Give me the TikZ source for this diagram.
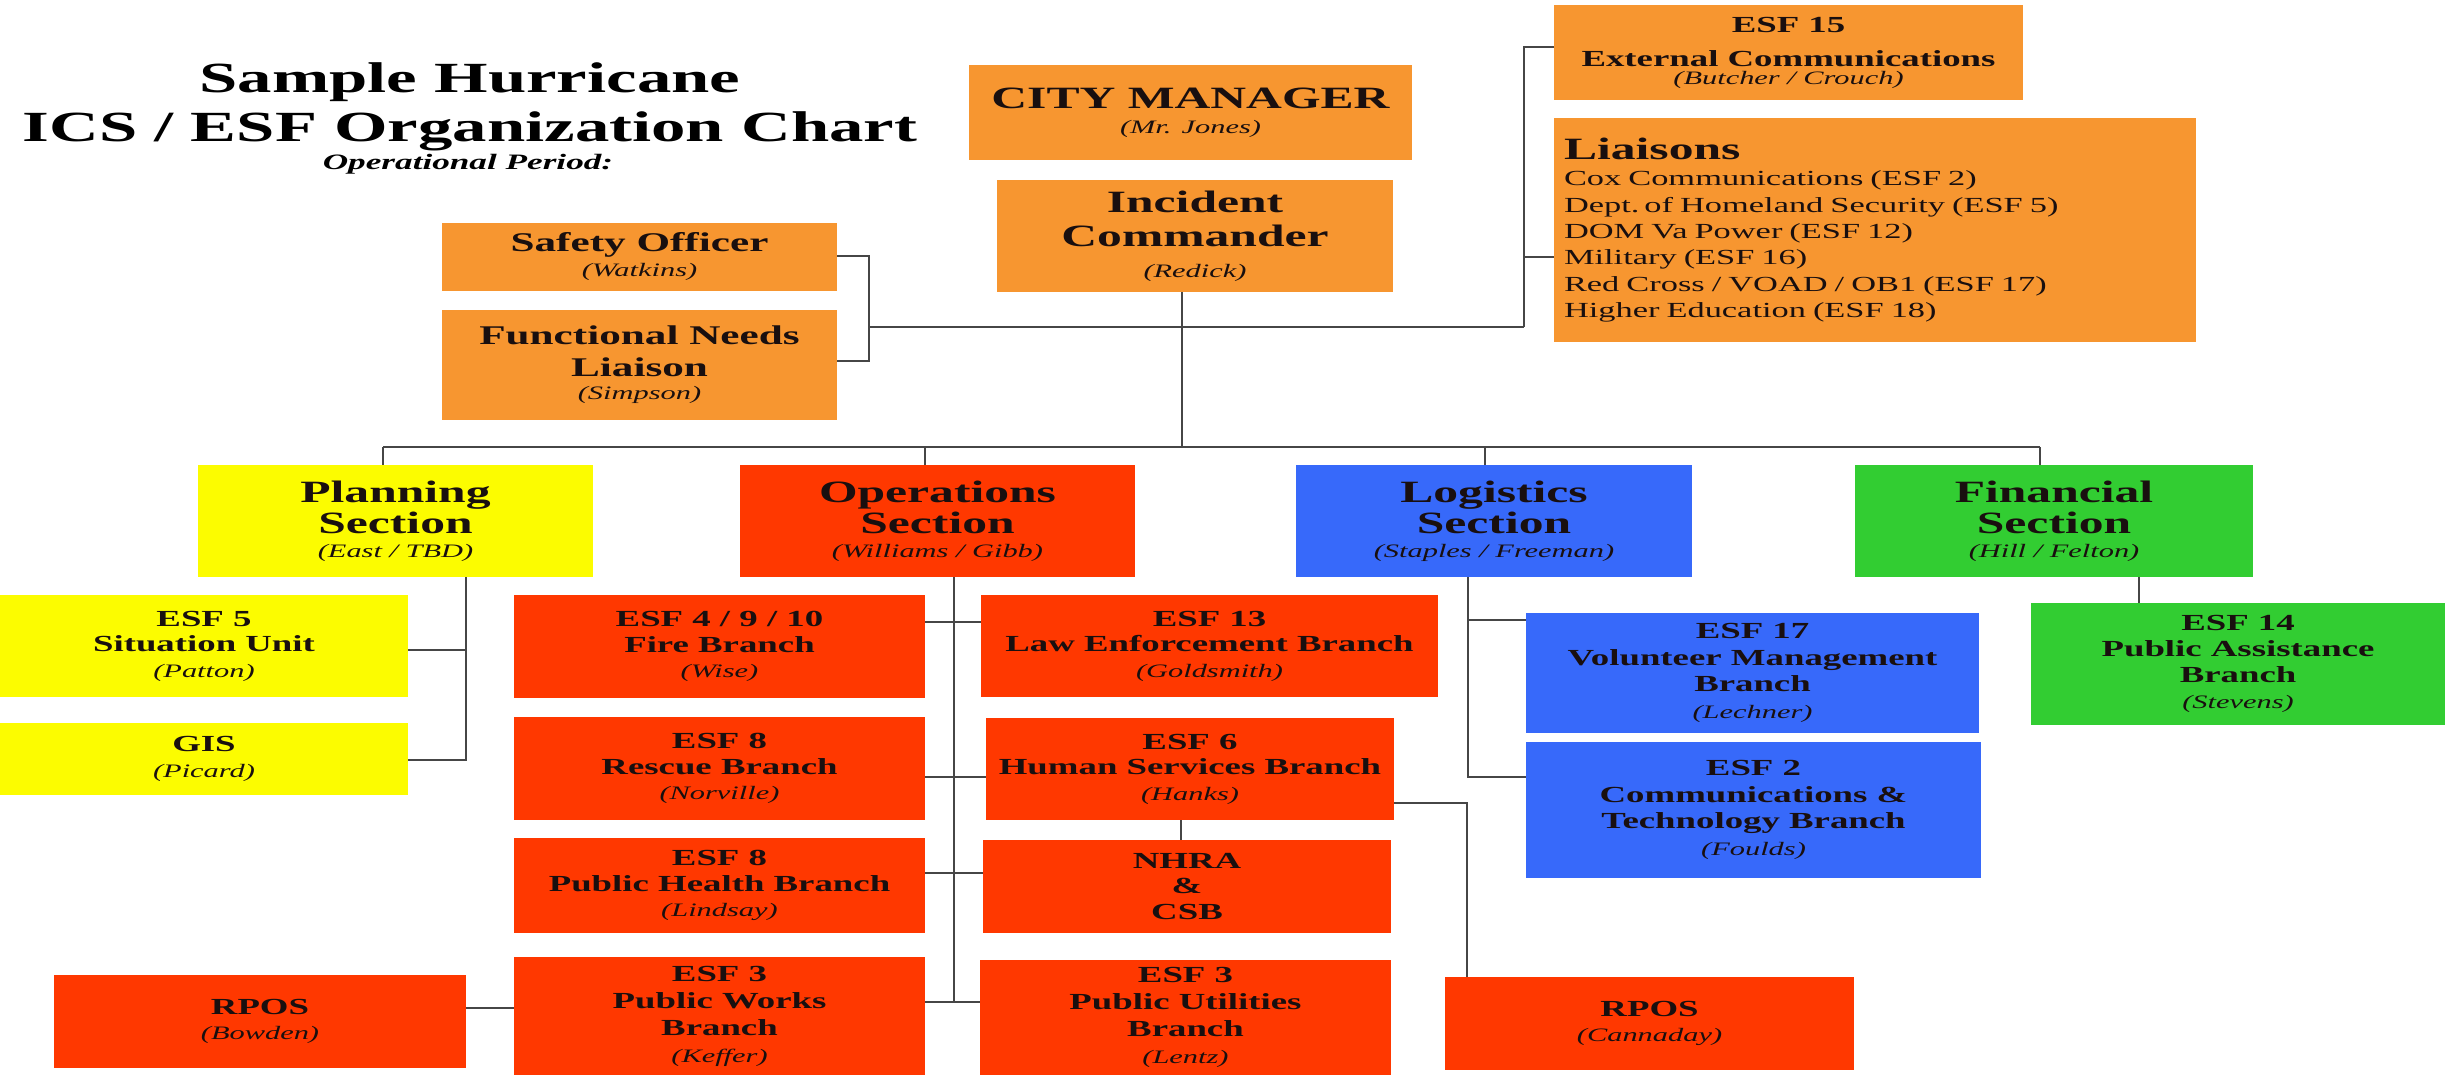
\documentclass[tikz,border=0pt]{standalone}
\usepackage{fontspec}
\setmainfont{Liberation Serif}[FakeStretch=1.6]
\definecolor{orng}{RGB}{247,150,48}
\definecolor{yllw}{RGB}{252,252,0}
\definecolor{redd}{RGB}{255,56,0}
\definecolor{blu}{RGB}{55,105,250}
\definecolor{grn}{RGB}{50,205,50}
\definecolor{lineclr}{RGB}{70,70,70}
\definecolor{txtclr}{RGB}{25,15,15}
\newcommand\fTitle{\fontsize{43}{49}\selectfont\bfseries}
\newcommand\fBig{\fontsize{31}{31}\selectfont\bfseries}
\newcommand\fMid{\fontsize{27}{27}\selectfont\bfseries}
\newcommand\fBr{\fontsize{23}{23}\selectfont\bfseries}
\newcommand\fTx{\fontsize{21.5}{21.5}\selectfont\mdseries\spaceskip=7pt plus 3pt minus 1pt\relax}
\newcommand\fNm{\fontsize{19}{19}\selectfont\mdseries\itshape}
% box: name, x1, y1, x2, y2, colour, options, text
\newcommand\bx[8]{\node[orgbox, fill=#6, minimum width={#4-#2}, minimum height={#5-#3}, #7] (#1) at ({(#2+#4)/2},{(#3+#5)/2}) {#8};}
\tikzset{
  orgbox/.style={draw=none, inner sep=0pt, outer sep=0pt, align=center, text=txtclr},
  lsk/.style={font=\fontsize{10}{#1}\selectfont},
  conn/.style={draw=lineclr, line width=2.2pt},
  ttl/.style={anchor=base, inner sep=0pt, text=black}
}
\begin{document}
\begin{tikzpicture}[x=1pt,y=-1pt]
\fill[white] (0,0) rectangle (2448,1075);
\useasboundingbox (0,0) rectangle (2448,1075);

% title
\node[ttl, font=\fTitle] (t1) at (470,93) {Sample Hurricane};
\node[ttl, font=\fTitle] (t2) at (470,142) {ICS / ESF Organization Chart};
\node[ttl, font=\fontsize{22}{22}\selectfont\bfseries\itshape] (t3) at (468,170) {Operational Period:};

% top
\bx{cm}{969}{65}{1412}{160}{orng}{lsk=25}{{\fBig CITY MANAGER}\\{\fNm (Mr. Jones)}}
\bx{ic}{997}{180}{1393}{292}{orng}{lsk=34}{{\fBig Incident}\\{\fBig Commander}\\[-3pt]{\fNm (Redick)}}
\bx{esf15}{1554}{5}{2023}{100}{orng}{lsk=26}{{\fBr ESF 15}\\[8pt]{\fBr External Communications}\\[-8pt]{\fNm (Butcher / Crouch)}}
\bx{liai}{1554}{118}{2196}{342}{orng}{lsk=26.4, text width=622pt, align=left, inner xsep=10pt}{{\fBig Liaisons}\\
{\fTx Cox Communications (ESF 2)}\\
{\fTx Dept. of Homeland Security (ESF 5)}\\
{\fTx DOM Va Power (ESF 12)}\\
{\fTx Military (ESF 16)}\\
{\fTx Red Cross / VOAD / OB1 (ESF 17)}\\
{\fTx Higher Education (ESF 18)}\\[16pt]}
\bx{so}{442}{223}{837}{291}{orng}{lsk=25}{{\fMid Safety Officer}\\{\fNm (Watkins)}}
\bx{fnl}{442}{310}{837}{420}{orng}{lsk=32}{{\fMid Functional Needs}\\{\fMid Liaison}\\[-9pt]{\fNm (Simpson)}}

% sections
\bx{plan}{198}{465}{593}{577}{yllw}{lsk=31}{{\fBig Planning}\\{\fBig Section}\\[-7pt]{\fNm (East / TBD)}}
\bx{ops}{740}{465}{1135}{577}{redd}{lsk=31}{{\fBig Operations}\\{\fBig Section}\\[-7pt]{\fNm (Williams / Gibb)}}
\bx{log}{1296}{465}{1692}{577}{blu}{lsk=31}{{\fBig Logistics}\\{\fBig Section}\\[-7pt]{\fNm (Staples / Freeman)}}
\bx{fin}{1855}{465}{2253}{577}{grn}{lsk=31}{{\fBig Financial}\\{\fBig Section}\\[-7pt]{\fNm (Hill / Felton)}}

% planning units
\bx{esf5}{0}{595}{408}{697}{yllw}{lsk=25.5}{{\fBr ESF 5}\\{\fBr Situation Unit}\\{\fNm (Patton)}}
\bx{gis}{0}{723}{408}{795}{yllw}{lsk=25.5}{{\fBr GIS}\\{\fNm (Picard)}}

% operations branches
\bx{fire}{514}{595}{925}{698}{redd}{lsk=25.5}{{\fBr ESF 4 / 9 / 10}\\{\fBr Fire Branch}\\{\fNm (Wise)}}
\bx{rescue}{514}{717}{925}{820}{redd}{lsk=25.5}{{\fBr ESF 8}\\{\fBr Rescue Branch}\\{\fNm (Norville)}}
\bx{ph}{514}{838}{925}{933}{redd}{lsk=25.5}{{\fBr ESF 8}\\{\fBr Public Health Branch}\\{\fNm (Lindsay)}}
\bx{pw}{514}{957}{925}{1075}{redd}{lsk=27}{{\fBr ESF 3}\\{\fBr Public Works}\\{\fBr Branch}\\{\fNm (Keffer)}}
\bx{rposl}{54}{975}{466}{1068}{redd}{lsk=25.5}{{\fBr RPOS}\\{\fNm (Bowden)}}
\bx{esf13}{981}{595}{1438}{697}{redd}{lsk=25.5}{{\fBr ESF 13}\\{\fBr Law Enforcement Branch}\\{\fNm (Goldsmith)}}
\bx{hs}{986}{718}{1394}{820}{redd}{lsk=25.5}{{\fBr ESF 6}\\{\fBr Human Services Branch}\\{\fNm (Hanks)}}
\bx{nhra}{983}{840}{1391}{933}{redd}{lsk=25.5}{{\fBr NHRA}\\{\fBr \&}\\{\fBr CSB}}
\bx{pu}{980}{960}{1391}{1075}{redd}{lsk=27}{{\fBr ESF 3}\\{\fBr Public Utilities}\\{\fBr Branch}\\{\fNm (Lentz)}}
\bx{rposr}{1445}{977}{1854}{1070}{redd}{lsk=25.5}{{\fBr RPOS}\\{\fNm (Cannaday)}}

% logistics branches
\bx{esf17}{1526}{613}{1979}{733}{blu}{lsk=26.5}{{\fBr ESF 17}\\{\fBr Volunteer Management}\\{\fBr Branch}\\{\fNm (Lechner)}}
\bx{esf2}{1526}{742}{1981}{878}{blu}{lsk=26.5}{{\fBr ESF 2}\\{\fBr Communications \&}\\{\fBr Technology Branch}\\{\fNm (Foulds)}}

% financial branch
\bx{esf14}{2031}{603}{2445}{725}{grn}{lsk=26}{{\fBr ESF 14}\\{\fBr Public Assistance}\\{\fBr Branch}\\{\fNm (Stevens)}}

% connectors: command staff
\draw[conn] (so.east |- 0,256) -- (869,256) -- (869,361) -- (fnl.east |- 0,361);
\draw[conn] (869,327) -- (1524,327);
\draw[conn] (esf15.west |- 0,47) -- (1524,47) -- (1524,327);
\draw[conn] (1524,257) -- (liai.west |- 0,257);

% incident commander to sections
\coordinate (busL) at (383,447);
\coordinate (busR) at (2040,447);
\draw[conn] (ic.south -| 1182,0) -- (1182,447);
\draw[conn] (busL) -- (busR);
\draw[conn] (busL) -- (busL |- plan.north);
\draw[conn] (925,447) -- (ops.north -| 925,0);
\draw[conn] (1485,447) -- (log.north -| 1485,0);
\draw[conn] (busR) -- (busR |- fin.north);

% planning
\draw[conn] (plan.south -| 466,0) -- (466,760) -- (gis.east |- 0,760);
\draw[conn] (466,650) -- (esf5.east |- 0,650);

% operations
\draw[conn] (ops.south -| 954,0) -- (954,1002);
\draw[conn] (fire.east |- 0,622) -- (esf13.west |- 0,622);
\draw[conn] (rescue.east |- 0,777) -- (hs.west |- 0,777);
\draw[conn] (ph.east |- 0,873) -- (nhra.west |- 0,873);
\draw[conn] (pw.east |- 0,1002) -- (pu.west |- 0,1002);
\draw[conn] (rposl.east |- 0,1008) -- (pw.west |- 0,1008);
\draw[conn] (hs.south -| 1181,0) -- (nhra.north -| 1181,0);
\draw[conn] (hs.east |- 0,803) -- (1467,803) -- (rposr.north -| 1467,0);

% logistics
\draw[conn] (log.south -| 1468,0) -- (1468,777) -- (esf2.west |- 0,777);
\draw[conn] (1468,620) -- (esf17.west |- 0,620);

% financial
\draw[conn] (fin.south -| 2139,0) -- (esf14.north -| 2139,0);
\end{tikzpicture}
\end{document}
